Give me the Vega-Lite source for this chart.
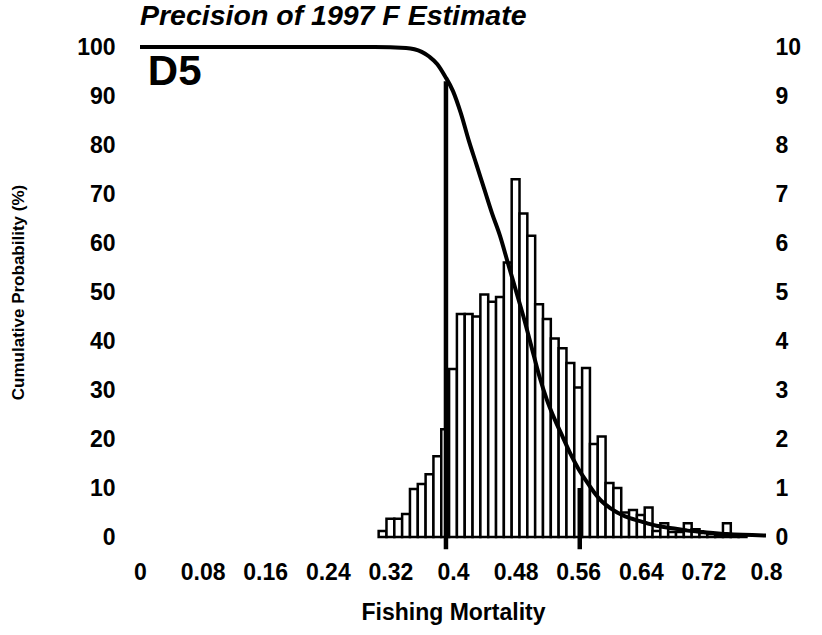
{
  "$schema": "https://vega.github.io/schema/vega-lite/v6.json",
  "width": 626,
  "height": 490,
  "autosize": {"type": "none"},
  "padding": {"left": 140, "top": 47, "right": 56, "bottom": 98},
  "background": "white",
  "config": {
    "font": "Liberation Sans",
    "view": {"stroke": null},
    "axis": {
      "domain": false, "ticks": false, "grid": false,
      "labelFont": "Liberation Sans", "labelFontWeight": "bold", "labelFontSize": 23, "labelColor": "black",
      "titleFont": "Liberation Sans", "titleFontWeight": "bold", "titleColor": "black"
    }
  },
  "title": {
    "text": "Precision of 1997 F Estimate",
    "anchor": "start",
    "frame": "group",
    "font": "Liberation Sans",
    "fontSize": 28.5,
    "fontStyle": "italic",
    "fontWeight": "bold",
    "color": "black",
    "offset": 6
  },
  "datasets": {
    "hist": [
      {"start": 0.305, "end": 0.315, "pct": 0.12},
      {"start": 0.315, "end": 0.325, "pct": 0.37},
      {"start": 0.325, "end": 0.335, "pct": 0.37},
      {"start": 0.335, "end": 0.345, "pct": 0.47},
      {"start": 0.345, "end": 0.355, "pct": 0.98},
      {"start": 0.355, "end": 0.365, "pct": 1.08},
      {"start": 0.365, "end": 0.375, "pct": 1.28},
      {"start": 0.375, "end": 0.385, "pct": 1.65},
      {"start": 0.385, "end": 0.395, "pct": 2.2},
      {"start": 0.395, "end": 0.405, "pct": 3.43},
      {"start": 0.405, "end": 0.415, "pct": 4.55},
      {"start": 0.415, "end": 0.425, "pct": 4.55},
      {"start": 0.425, "end": 0.435, "pct": 4.5},
      {"start": 0.435, "end": 0.445, "pct": 4.95},
      {"start": 0.445, "end": 0.455, "pct": 4.8},
      {"start": 0.455, "end": 0.465, "pct": 4.9},
      {"start": 0.465, "end": 0.475, "pct": 5.6},
      {"start": 0.475, "end": 0.485, "pct": 7.3},
      {"start": 0.485, "end": 0.495, "pct": 6.6},
      {"start": 0.495, "end": 0.505, "pct": 6.15},
      {"start": 0.505, "end": 0.515, "pct": 4.75},
      {"start": 0.515, "end": 0.525, "pct": 4.45},
      {"start": 0.525, "end": 0.535, "pct": 4.05},
      {"start": 0.535, "end": 0.545, "pct": 3.85},
      {"start": 0.545, "end": 0.555, "pct": 3.55},
      {"start": 0.555, "end": 0.565, "pct": 3.05},
      {"start": 0.565, "end": 0.575, "pct": 3.45},
      {"start": 0.575, "end": 0.585, "pct": 1.9},
      {"start": 0.585, "end": 0.595, "pct": 2.05},
      {"start": 0.595, "end": 0.605, "pct": 1.1},
      {"start": 0.605, "end": 0.615, "pct": 1.0},
      {"start": 0.615, "end": 0.625, "pct": 0.5},
      {"start": 0.625, "end": 0.635, "pct": 0.55},
      {"start": 0.635, "end": 0.645, "pct": 0.45},
      {"start": 0.645, "end": 0.655, "pct": 0.6},
      {"start": 0.655, "end": 0.665, "pct": 0.12},
      {"start": 0.665, "end": 0.675, "pct": 0.28},
      {"start": 0.675, "end": 0.685, "pct": 0.1},
      {"start": 0.685, "end": 0.695, "pct": 0.1},
      {"start": 0.695, "end": 0.705, "pct": 0.28},
      {"start": 0.705, "end": 0.715, "pct": 0.16},
      {"start": 0.715, "end": 0.725, "pct": 0.08},
      {"start": 0.725, "end": 0.735, "pct": 0.06},
      {"start": 0.735, "end": 0.745, "pct": 0.05},
      {"start": 0.745, "end": 0.755, "pct": 0.28},
      {"start": 0.755, "end": 0.765, "pct": 0.04},
      {"start": 0.765, "end": 0.775, "pct": 0.03}
    ],
    "curve": [
      {"f": 0.0, "cum": 100},
      {"f": 0.3, "cum": 100},
      {"f": 0.34, "cum": 99.8},
      {"f": 0.36, "cum": 99},
      {"f": 0.37, "cum": 98},
      {"f": 0.38, "cum": 96.5},
      {"f": 0.39, "cum": 94},
      {"f": 0.40, "cum": 91},
      {"f": 0.41, "cum": 86.5},
      {"f": 0.42, "cum": 81},
      {"f": 0.43, "cum": 76},
      {"f": 0.44, "cum": 71},
      {"f": 0.45, "cum": 66},
      {"f": 0.46, "cum": 61.5},
      {"f": 0.47, "cum": 56},
      {"f": 0.48, "cum": 50.5},
      {"f": 0.49, "cum": 45},
      {"f": 0.50, "cum": 39},
      {"f": 0.51, "cum": 33},
      {"f": 0.52, "cum": 28},
      {"f": 0.53, "cum": 24},
      {"f": 0.54, "cum": 20.5},
      {"f": 0.55, "cum": 17},
      {"f": 0.56, "cum": 14},
      {"f": 0.57, "cum": 11.5},
      {"f": 0.58, "cum": 9.2},
      {"f": 0.59, "cum": 7.3},
      {"f": 0.60, "cum": 6},
      {"f": 0.62, "cum": 4.2},
      {"f": 0.64, "cum": 3.2},
      {"f": 0.66, "cum": 2.3},
      {"f": 0.68, "cum": 1.8},
      {"f": 0.70, "cum": 1.3},
      {"f": 0.72, "cum": 1.0},
      {"f": 0.75, "cum": 0.6},
      {"f": 0.80, "cum": 0.3}
    ],
    "limits": [
      {"f": 0.391, "top": 93, "bottom": -2.5},
      {"f": 0.562, "top": 10, "bottom": -2.5}
    ],
    "label": [
      {"f": 0.01, "y": 92.2, "text": "D5"}
    ]
  },
  "layer": [
    {
      "data": {"name": "hist"},
      "mark": {"type": "bar", "fill": "white", "stroke": "black", "strokeWidth": 2.5},
      "encoding": {
        "x": {
          "field": "start", "type": "quantitative",
          "scale": {"domain": [0, 0.8], "nice": false, "zero": false},
          "axis": {
            "values": [0, 0.08, 0.16, 0.24, 0.32, 0.4, 0.48, 0.56, 0.64, 0.72, 0.8],
            "labelExpr": "format(datum.value, '~g')",
            "labelPadding": 24,
            "labelFlush": false,
            "title": "Fishing Mortality",
            "titleFontSize": 23,
            "titlePadding": 17
          }
        },
        "x2": {"field": "end"},
        "y": {
          "field": "pct", "type": "quantitative",
          "scale": {"domain": [0, 10], "nice": false},
          "axis": {
            "orient": "right",
            "values": [0, 1, 2, 3, 4, 5, 6, 7, 8, 9, 10],
            "labelPadding": 9,
            "labelAlign": "left",
            "title": null
          }
        },
        "y2": {"datum": 0}
      }
    },
    {
      "data": {"name": "curve"},
      "mark": {"type": "line", "color": "black", "strokeWidth": 4, "interpolate": "monotone"},
      "encoding": {
        "x": {"field": "f", "type": "quantitative"},
        "y": {
          "field": "cum", "type": "quantitative",
          "scale": {"domain": [0, 100], "nice": false},
          "axis": {
            "orient": "left",
            "values": [0, 10, 20, 30, 40, 50, 60, 70, 80, 90, 100],
            "labelPadding": 25,
            "title": "Cumulative Probability (%)",
            "titleFontSize": 17,
            "titleAngle": 270,
            "titleAlign": "center",
            "titleBaseline": "middle",
            "titleX": -122,
            "titleY": 245
          }
        }
      }
    },
    {
      "data": {"name": "limits"},
      "mark": {"type": "rule", "color": "black", "strokeWidth": 4.5},
      "encoding": {
        "x": {"field": "f", "type": "quantitative"},
        "y": {"field": "top", "type": "quantitative", "scale": {"domain": [0, 100], "nice": false}, "axis": null},
        "y2": {"field": "bottom"}
      }
    },
    {
      "data": {"name": "label"},
      "mark": {"type": "text", "align": "left", "baseline": "alphabetic", "fontSize": 42, "fontWeight": "bold", "font": "Liberation Sans", "color": "black"},
      "encoding": {
        "x": {"field": "f", "type": "quantitative"},
        "y": {"field": "y", "type": "quantitative", "scale": {"domain": [0, 100], "nice": false}, "axis": null},
        "text": {"field": "text"}
      }
    }
  ],
  "resolve": {"scale": {"y": "independent"}}
}
